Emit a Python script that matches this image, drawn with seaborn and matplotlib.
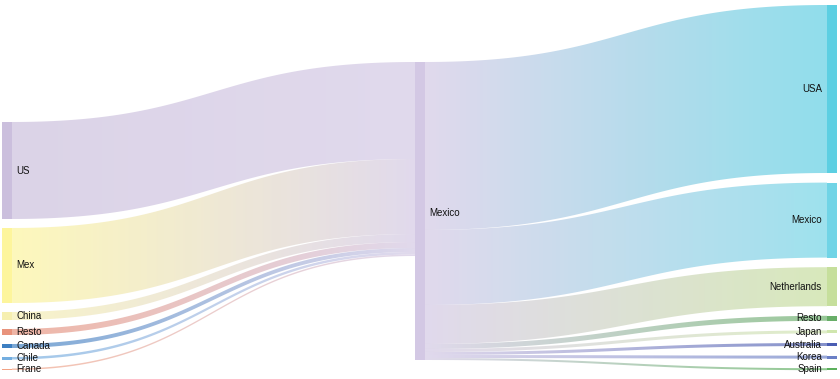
import numpy as np
import matplotlib
matplotlib.use("Agg")
import matplotlib.pyplot as plt
from matplotlib.colors import to_rgb
from matplotlib.patches import Polygon
import seaborn as sns

sns.set_theme(style="white")
plt.rcParams['font.family'] = ['Liberation Sans', 'DejaVu Sans']

# data
sources = ["US", "Mex", "China", "Resto", "Canada", "Chile", "Frane"]
source_values = [97, 75, 8, 6, 4, 2.5, 1.5]
source_colors = ["#cbbfdd", "#fdf59c", "#f6efb0", "#e8937c", "#3d7fc2", "#74aee0", "#f2a385"]

hub = "Mexico"
hub_color = "#d3c8e4"

targets = ["USA", "Mexico", "Netherlands", "Resto", "Japan", "Australia", "Korea", "Spain"]
target_values = [168, 75, 39, 5, 3, 3, 3, 2]
target_colors = ["#5ccfe2", "#70d4e6", "#c6df9c", "#68ae68", "#d0e6ae", "#4a5db2", "#6b80c6", "#5cb05c"]

# layout (pixel space)
W, H = 840, 379
node_w = 9.5
col_x = [2, 415, 827]
col_top = [122, 62, 5]
pad_left = 9.0
pad_right = 9.6
link_alpha = 0.68


def stack(values, top, pad):
    out, y = [], top
    for v in values:
        out.append((y, y + v))
        y += v + pad
    return out


left_nodes = stack(source_values, col_top[0], pad_left)
right_nodes = stack(target_values, col_top[2], pad_right)
hub_total = max(sum(source_values), sum(target_values))
hub_node = (col_top[1], col_top[1] + hub_total)

fig = plt.figure(figsize=(W / 100, H / 100), dpi=100)
ax = fig.add_axes([0, 0, 1, 1])
ax.set_xlim(0, W)
ax.set_ylim(H, 0)
ax.axis("off")


def draw_link(x0, x1, y0a, y0b, y1a, y1b, c0, c1):
    t = np.linspace(0, 1, 80)
    xm = (x0 + x1) / 2
    bx = (1 - t) ** 3 * x0 + 3 * (1 - t) ** 2 * t * xm + 3 * (1 - t) * t ** 2 * xm + t ** 3 * x1
    sm = 3 * t ** 2 - 2 * t ** 3
    top = y0a + (y1a - y0a) * sm
    bot = y0b + (y1b - y0b) * sm
    pts = np.vstack([np.column_stack([bx, top]), np.column_stack([bx[::-1], bot[::-1]])])
    poly = Polygon(pts, closed=True, facecolor="none", edgecolor="none")
    ax.add_patch(poly)
    n = 200
    r0, r1 = np.array(to_rgb(c0)), np.array(to_rgb(c1))
    s = np.linspace(0, 1, n)[:, None]
    rgb = r0 * (1 - s) + r1 * s
    img = np.concatenate([rgb, np.full((n, 1), link_alpha)], axis=1)[None, :, :]
    ymin = min(y0a, y1a) - 1
    ymax = max(y0b, y1b) + 1
    im = ax.imshow(img, extent=(x0, x1, ymax, ymin), aspect="auto",
                   interpolation="bilinear", zorder=1)
    im.set_clip_path(poly)


# left links -> hub
y = hub_node[0]
for (a, b), v, c in zip(left_nodes, source_values, source_colors):
    draw_link(col_x[0] + node_w, col_x[1], a, b, y, y + v, c, hub_color)
    y += v

# hub -> right links
y = hub_node[0]
for (a, b), v, c in zip(right_nodes, target_values, target_colors):
    draw_link(col_x[1] + node_w, col_x[2], y, y + v, a, b, hub_color, c)
    y += v

# nodes
for (a, b), c in zip(left_nodes, source_colors):
    ax.add_patch(plt.Rectangle((col_x[0], a), node_w, b - a, color=c, lw=0, zorder=2))
ax.add_patch(plt.Rectangle((col_x[1], hub_node[0]), node_w, hub_total, color=hub_color,
                           lw=0, zorder=2))
for (a, b), c in zip(right_nodes, target_colors):
    ax.add_patch(plt.Rectangle((col_x[2], a), node_w, b - a, color=c, lw=0, zorder=2))

# labels
fs = 7
for (a, b), name in zip(left_nodes, sources):
    ax.text(col_x[0] + node_w + 5, (a + b) / 2, name, ha="left", va="center",
            fontsize=fs, color="#111111", zorder=3)
ax.text(col_x[1] + node_w + 5, sum(hub_node) / 2 + 2, hub, ha="left", va="center",
        fontsize=fs, color="#111111", zorder=3)
for (a, b), name in zip(right_nodes, targets):
    ax.text(col_x[2] - 5, (a + b) / 2, name, ha="right", va="center",
            fontsize=fs, color="#111111", zorder=3)

fig.savefig("out.png", dpi=100)
